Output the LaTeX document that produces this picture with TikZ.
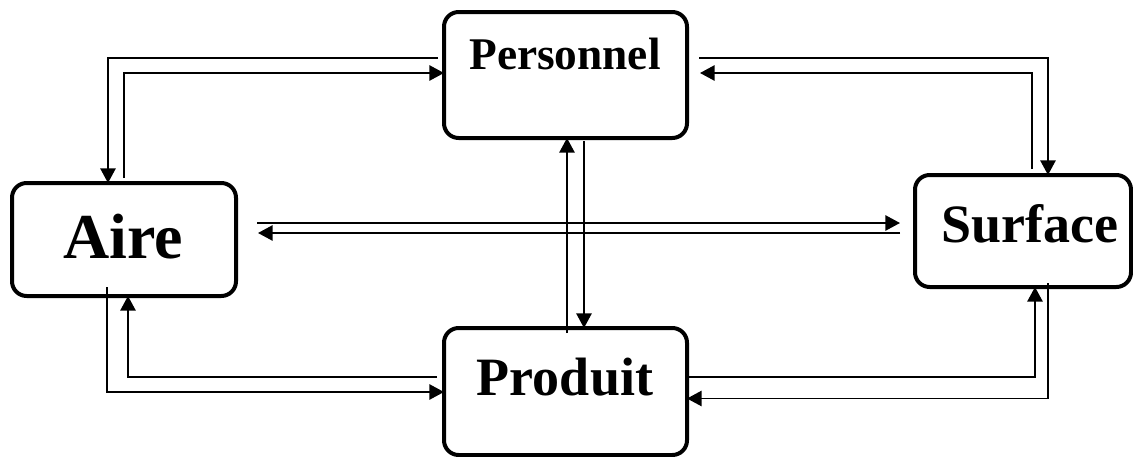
\documentclass[tikz,border=0pt]{standalone}
\usepackage{fontspec}
\setmainfont{Liberation Serif}
\usetikzlibrary{arrows.meta,calc,fit}
\begin{document}
\begin{tikzpicture}[x=0.75pt,y=-0.75pt,
  box/.style={draw, line width=3pt, rounded corners=11pt, inner sep=0pt, outer sep=0pt},
  lbl/.style={anchor=base, inner sep=0pt},
  conn/.style={line width=1.3pt, -{Triangle[length=11pt,width=11.5pt]}}]
\useasboundingbox (0,0) rectangle (1133,457);

% boxes
\node[box, fit={(444,12) (687,138)}]  (pers) {};
\node[box, fit={(12,183) (236,296)}]  (aire) {};
\node[box, fit={(444,328) (687,455)}] (prod) {};
\node[box, fit={(915,175) (1131,287)}] (surf) {};

% labels
\node[lbl, font=\bfseries\fontsize{34}{40}\selectfont] (tpers) at (565,69.5) {Personnel};
\node[lbl, font=\bfseries\fontsize{48}{56}\selectfont] (taire) at (123,258) {Aire};
\node[lbl, font=\bfseries\fontsize{40.5}{48}\selectfont] (tprod) at (565,395) {Produit};
\node[lbl, font=\bfseries\fontsize{40.5}{48}\selectfont] (tsurf) at (1029.5,242) {Surface};

% Personnel <-> Aire
\draw[conn] ($(pers.west)+(-6,-17)$) -| ($(aire.north)+(-16,0)$);
\draw[conn] ($(aire.north)+(0,-5)$) |- ($(pers.west)+(0,-2)$);

% Personnel <-> Surface
\draw[conn] ($(pers.east)+(12,-17)$) -| ($(surf.north)+(25,0)$);
\draw[conn] ($(surf.north)+(9,-6)$) |- ($(pers.east)+(13,-2)$);

% Aire <-> Surface
\draw[conn] ($(aire.east)+(21,-16.5)$) -- ($(surf.west)+(-15,-8)$);
\draw[conn] ($(surf.west)+(-15,2)$) -- ($(aire.east)+(22,-6.5)$);

% Personnel <-> Produit
\draw[conn] ($(prod.north)+(1.5,5)$) -- ($(pers.south)+(1.5,0)$);
\draw[conn] ($(pers.south)+(18.5,3)$) -- ($(prod.north)+(18.5,0)$);

% Aire <-> Produit
\draw[conn] ($(aire.south)+(-17,-9)$) |- ($(prod.west)+(0,0.5)$);
\draw[conn] ($(prod.west)+(-7,-14.5)$) -| ($(aire.south)+(4,0)$);

% Produit <-> Surface
\draw[conn] ($(prod.east)+(0,-14.5)$) -| ($(surf.south)+(12,0)$);
\draw[conn] ($(surf.south)+(25,-4)$) |- ($(prod.east)+(0,7)$);
\end{tikzpicture}
\end{document}
